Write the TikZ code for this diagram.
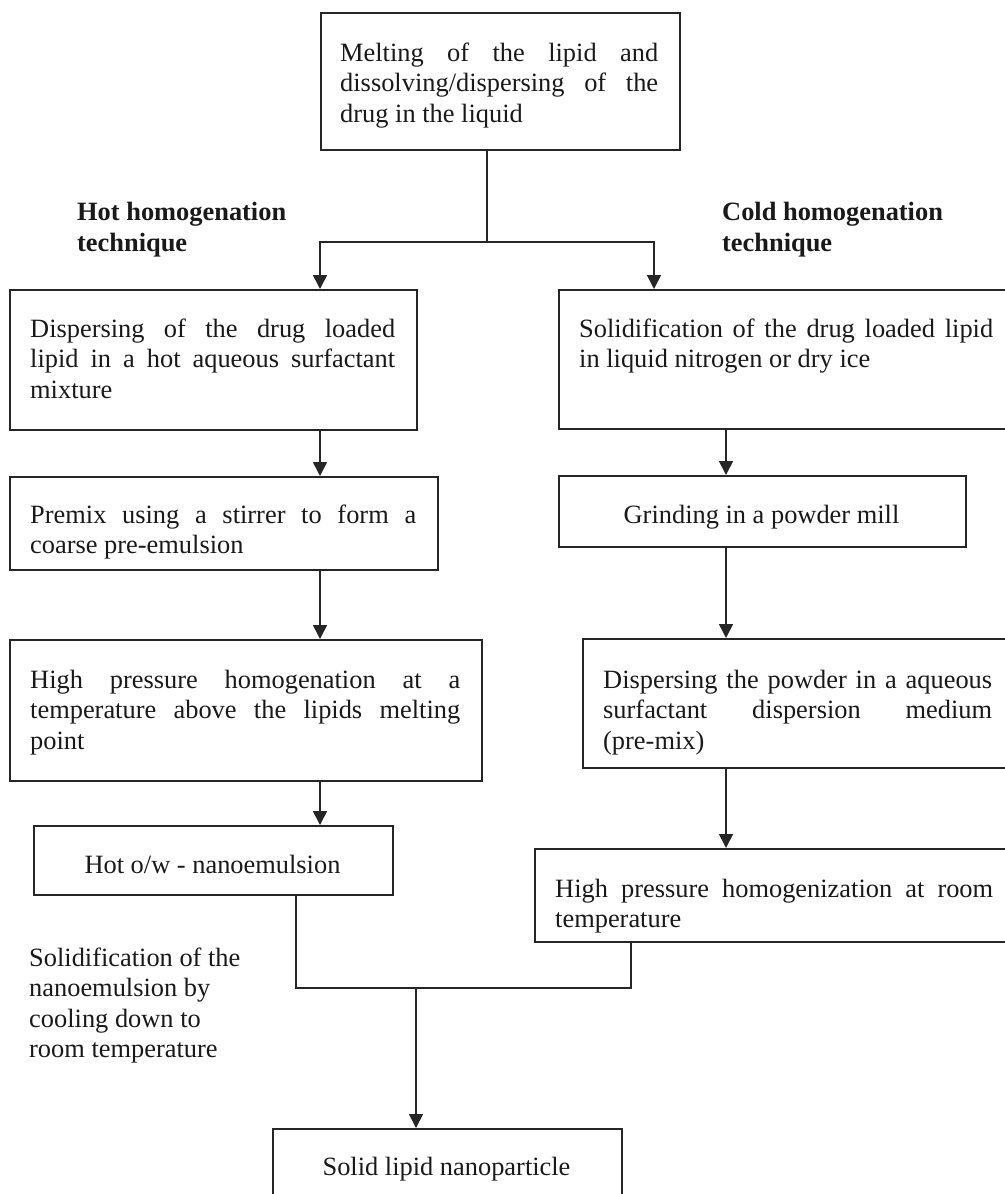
\documentclass[tikz,border=0pt]{standalone}
\usepackage{fontspec}
\setmainfont{Liberation Serif}
\usetikzlibrary{arrows.meta}
\newcommand\jl[2]{\makebox[#1][s]{#2}}
\begin{document}
\begin{tikzpicture}[x=1pt,y=-1pt,
  box/.style={draw=black!85, line width=1.6pt, rectangle, inner sep=0pt, anchor=north west},
  txt/.style={inner sep=0pt, anchor=north west, align=left, font=\fontsize{26.4}{30.5}\selectfont, text=black!90},
  ctxt/.style={inner sep=0pt, anchor=base, font=\fontsize{26.4}{30.5}\selectfont, text=black!90},
  head/.style={inner sep=0pt, anchor=north west, align=left, font=\fontsize{26.4}{30.5}\selectfont\bfseries, text=black!90},
  conn/.style={draw=black!85, line width=1.6pt},
  arr/.style={conn, -{Triangle[length=14pt,width=14pt]}}
]
\useasboundingbox (0,0) rectangle (1004,1194);

% boxes
\node[box, minimum width=359pt, minimum height=137pt] (top) at (320,12) {};
\node[box, minimum width=407pt, minimum height=140pt] (l1) at (9,289) {};
\node[box, minimum width=428pt, minimum height=93pt] (l2) at (9,476) {};
\node[box, minimum width=472pt, minimum height=141pt] (l3) at (9,639) {};
\node[box, minimum width=359pt, minimum height=69pt] (hot) at (33,825) {};
\node[box, minimum width=456pt, minimum height=139pt] (r1) at (558,289) {};
\node[box, minimum width=407pt, minimum height=71pt] (grind) at (558,475) {};
\node[box, minimum width=432pt, minimum height=129pt] (r3) at (582,638) {};
\node[box, minimum width=480pt, minimum height=93pt] (r4) at (534,848) {};
\node[box, minimum width=349pt, minimum height=80pt] (solid) at (272,1128) {};

% texts
\node[txt] (topt) at (340,39.65) {\strut\jl{318pt}{Melting of the lipid and}\\\jl{318pt}{dissolving/dispersing of the}\\drug in the liquid};
\node[txt] (l1t) at (30,315.65) {\strut\jl{365pt}{Dispersing of the drug loaded}\\\jl{365pt}{lipid in a hot aqueous surfactant}\\mixture};
\node[txt] (l2t) at (30,501.65) {\strut\jl{386pt}{Premix using a stirrer to form a}\\coarse pre-emulsion};
\node[txt] (l3t) at (30,666.65) {\strut\jl{430pt}{High pressure homogenation at a}\\\jl{430pt}{temperature above the lipids melting}\\point};
\node[ctxt] (hott) at (212.5,873) {Hot o/w - nanoemulsion};
\node[txt] (r1t) at (579,315.65) {\strut\jl{414pt}{Solidification of the drug loaded lipid}\\in liquid nitrogen or dry ice};
\node[ctxt] (grindt) at (761.5,523) {Grinding in a powder mill};
\node[txt] (r3t) at (603,666.65) {\strut\jl{389pt}{Dispersing the powder in a aqueous}\\\jl{389pt}{surfactant dispersion medium}\\(pre-mix)};
\node[txt] (r4t) at (555,875.65) {\strut\jl{438pt}{High pressure homogenization at room}\\temperature};
\node[ctxt] (solidt) at (446.5,1175) {Solid lipid nanoparticle};

\node[head] (hoth) at (77,199.3) {\strut Hot homogenation\\technique};
\node[head] (coldh) at (722,199.3) {\strut Cold homogenation\\technique};
\node[txt] (cool) at (29,944.65) {\strut Solidification of the\\nanoemulsion by\\cooling down to\\room temperature};

% connectors
\coordinate (split) at (487,242);
\coordinate (lx) at (320,0);
\coordinate (rxa) at (654,0);
\coordinate (rx) at (726,0);
\draw[conn] (split |- top.south) -- (split);
\draw[arr] (split) -| (lx |- l1.north);
\draw[arr] (split) -| (rxa |- r1.north);

\draw[arr] (lx |- l1.south) -- (lx |- l2.north);
\draw[arr] (lx |- l2.south) -- (lx |- l3.north);
\draw[arr] (lx |- l3.south) -- (lx |- hot.north);

\draw[arr] (rx |- r1.south) -- (rx |- grind.north);
\draw[arr] (rx |- grind.south) -- (rx |- r3.north);
\draw[arr] (rx |- r3.south) -- (rx |- r4.north);

\coordinate (ml) at (296,988);
\coordinate (mr) at (631,988);
\coordinate (mx) at (416,988);
\draw[conn] (ml |- hot.south) -- (ml) -- (mr) -- (mr |- r4.south);
\draw[arr] (mx) -- (mx |- solid.north);
\end{tikzpicture}
\end{document}
